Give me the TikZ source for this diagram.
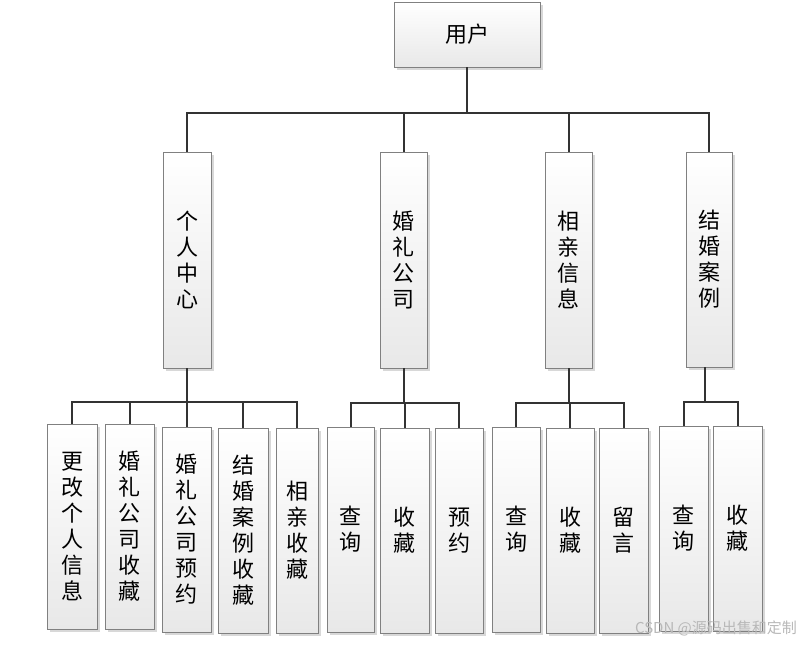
\documentclass[tikz,border=0pt]{standalone}
\usepackage{fontspec}
\newfontfamily\cjk{Noto Sans CJK SC}
\usetikzlibrary{shadows}
\tikzset{
  box/.style={draw=black!50, line width=0.8pt, top color=white, bottom color=black!9,
    drop shadow={shadow xshift=2.5pt, shadow yshift=-2.5pt, fill=black!22, opacity=0.7},
    align=center, inner sep=0pt, font=\cjk\fontsize{22}{26}\selectfont, text=black},
  link/.style={draw=black!80, line width=2pt},
  wmark/.style={text=black!28, font=\cjk\fontsize{15}{17}\selectfont}
}
\begin{document}
\begin{tikzpicture}[x=1pt,y=-1pt]
\useasboundingbox (0,0) rectangle (811,645);
% top
\node[box, minimum width=146pt, minimum height=65pt] (user) at (467,34.5) {用户};
% level 1
\node[box, minimum width=48pt, minimum height=216pt] (c1) at (187,260) {个\\人\\中\\心};
\node[box, minimum width=47pt, minimum height=216pt] (c2) at (403.5,260) {婚\\礼\\公\\司};
\node[box, minimum width=47pt, minimum height=216pt] (c3) at (568.5,260) {相\\亲\\信\\息};
\node[box, minimum width=46pt, minimum height=215pt] (c4) at (709,259.5) {结\\婚\\案\\例};
% level 2
\node[box, minimum width=50pt, minimum height=205pt] (a1) at (72,526.5) {更\\改\\个\\人\\信\\息};
\node[box, minimum width=49pt, minimum height=205pt] (a2) at (129.5,526.5) {婚\\礼\\公\\司\\收\\藏};
\node[box, minimum width=49pt, minimum height=205pt] (a3) at (186.5,529.5) {婚\\礼\\公\\司\\预\\约};
\node[box, minimum width=50pt, minimum height=205pt] (a4) at (243,530.5) {结\\婚\\案\\例\\收\\藏};
\node[box, minimum width=42pt, minimum height=205pt] (a5) at (297,530.5) {相\\亲\\收\\藏};
\node[box, minimum width=47pt, minimum height=205pt] (b1) at (350.5,529.5) {查\\询};
\node[box, minimum width=49pt, minimum height=205pt] (b2) at (404.5,530.5) {收\\藏};
\node[box, minimum width=48pt, minimum height=205pt] (b3) at (459,530.5) {预\\约};
\node[box, minimum width=48pt, minimum height=205pt] (d1) at (516,529.5) {查\\询};
\node[box, minimum width=48pt, minimum height=205pt] (d2) at (570,530.5) {收\\藏};
\node[box, minimum width=49pt, minimum height=205pt] (d3) at (623.5,530.5) {留\\言};
\node[box, minimum width=49pt, minimum height=205pt] (e1) at (683.5,528.5) {查\\询};
\node[box, minimum width=49pt, minimum height=205pt] (e2) at (737.5,528.5) {收\\藏};
% buses
\coordinate (bus0) at (467,113);
\coordinate (bus1) at (187,402);
\coordinate (bus2) at (403.5,403);
\coordinate (bus3) at (568.5,403);
\coordinate (bus4) at (705,402);
% connectors
\draw[link] (user.south) -- (bus0);
\foreach \n in {c1,c2,c3,c4} \draw[link] (\n.north) |- (bus0);
\draw[link] (c1.south) -- (bus1);
\foreach \n in {a1,a2,a3,a4,a5} \draw[link] (\n.north) |- (bus1);
\draw[link] (c2.south) -- (bus2);
\foreach \n in {b1,b2,b3} \draw[link] (\n.north) |- (bus2);
\draw[link] (c3.south) -- (bus3);
\foreach \n in {d1,d2,d3} \draw[link] (\n.north) |- (bus3);
\draw[link] ([xshift=-4pt]c4.south) -- (bus4);
\foreach \n in {e1,e2} \draw[link] (\n.north) |- (bus4);
% watermark
\node[wmark] (wm) at (716,628) {CSDN @源码出售和定制};
\end{tikzpicture}
\end{document}
